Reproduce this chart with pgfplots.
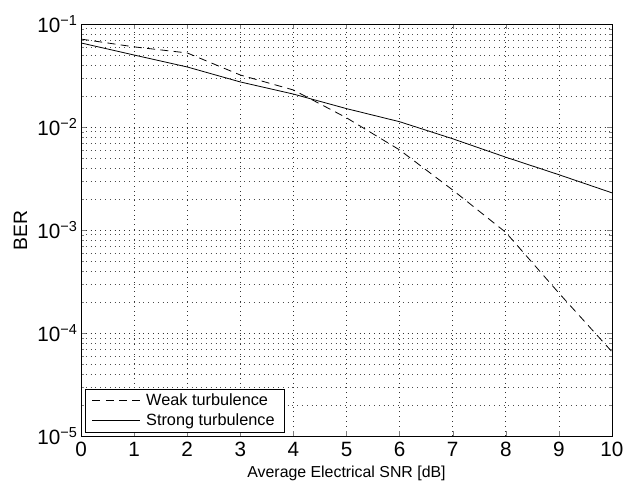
\documentclass[border=0pt]{standalone}
\usepackage{fontspec}
\setmainfont{Liberation Sans}
\usepackage{pgfplots}
\pgfplotsset{compat=1.18}
\usetikzlibrary{calc}

\begin{document}
\begin{tikzpicture}
\begin{axis}[
    name=ax,
    scale only axis,
    width=398pt, height=309pt,
    ymode=log,
    xmin=0, xmax=10, ymin=1e-5, ymax=1e-1,
    xtick={0,1,...,10},
    ytick={1e-5,1e-4,1e-3,1e-2,1e-1},
    yticklabels={10\textsuperscript{−5},10\textsuperscript{−4},10\textsuperscript{−3},10\textsuperscript{−2},10\textsuperscript{−1}},
    /pgf/number format/assume math mode=true,
    tick label style={font=\fontsize{15.5}{17}\selectfont},
    yticklabel style={xshift=1pt},
    xticklabel style={yshift=-1pt},
    tick align=inside,
    tick pos=both,
    major tick length=4pt,
    minor tick length=2.5pt,
    grid=both,
    major grid style={black!80, dash pattern=on 0.6pt off 3pt, line width=0.6pt},
    minor grid style={black!70, dash pattern=on 0.6pt off 3pt, line width=0.55pt},
    axis line style={line width=0.6pt},
    xlabel={Average Electrical SNR [dB]},
    ylabel={BER},
    xlabel style={font=\fontsize{11.9}{14}\selectfont, at={(axis description cs:0.5,0)}, anchor=north, yshift=-18.5pt},
    ylabel style={font=\fontsize{14.5}{16}\selectfont, at={(axis description cs:-0.114,0.5)}, anchor=center, inner sep=0pt},
    legend style={at={(0.0075,0.0097)}, anchor=south west, font=\fontsize{12.2}{14}\selectfont,
        draw=black, line width=0.5pt, inner xsep=5pt, inner ysep=1.5pt, row sep=0.5pt,
        column sep=2pt},
    legend image code/.code={\draw[#1] (0pt,0pt) -- (36pt,0pt);},
    legend cell align=left,
]
\addplot[black, dash pattern=on 6pt off 4pt, line width=0.6pt] coordinates {
    (0,0.0714) (1,0.060) (2,0.0524) (3,0.032) (4,0.0229) (5,0.0123)
    (6,0.0060) (7,0.00245) (8,0.00095) (9,0.000245) (10,0.000066)};
\addlegendentry{Weak turbulence}
\addplot[black, solid, line width=0.6pt] coordinates {
    (0,0.0655) (1,0.050) (2,0.0383) (3,0.0274) (4,0.0209) (5,0.0151)
    (6,0.01127) (7,0.0077) (8,0.0051) (9,0.00345) (10,0.0023)};
\addlegendentry{Strong turbulence}
\end{axis}
\pgfresetboundingbox
\path ($(ax.south west)+(-60.75pt,-35.25pt)$) rectangle ($(ax.north east)+(9.75pt,18pt)$);
\end{tikzpicture}
\end{document}
